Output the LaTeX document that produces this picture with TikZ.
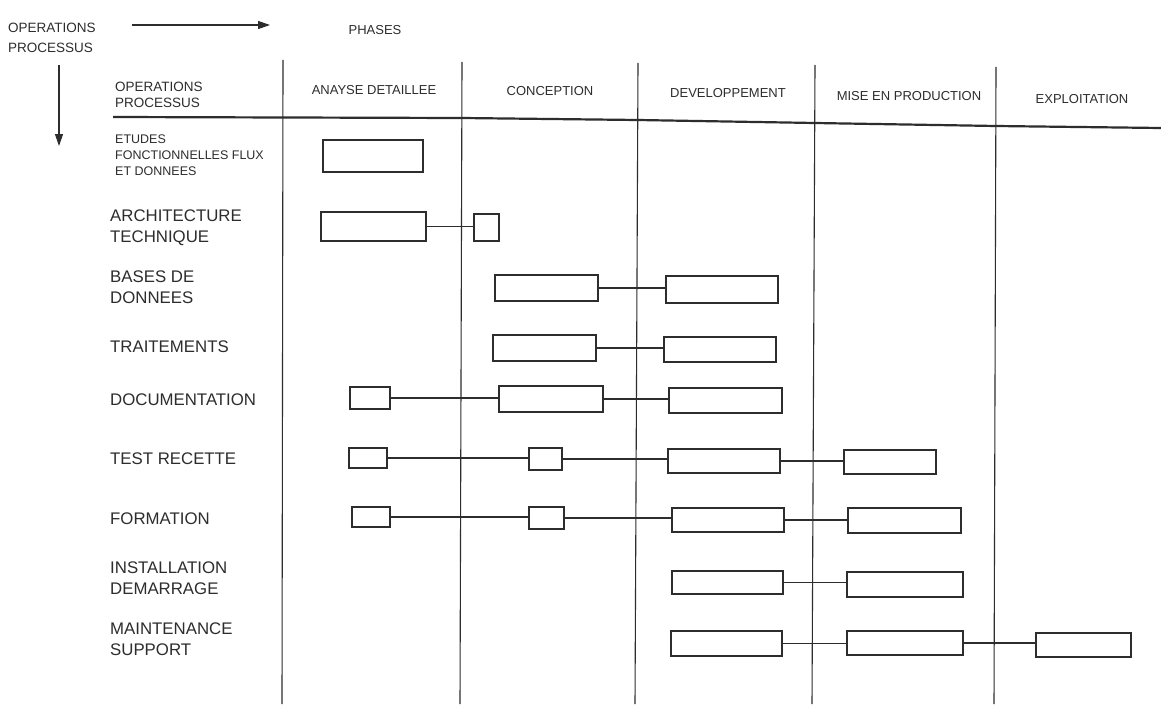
\documentclass[tikz,border=0pt]{standalone}
\usepackage{fontspec}
\setmainfont{Liberation Sans}
\usetikzlibrary{arrows.meta,fit}
\definecolor{inkc}{RGB}{45,45,45}
\begin{document}
\begin{tikzpicture}[x=1pt,y=-1pt,
  rule/.style={draw=inkc, line width=1.1pt},
  headrule/.style={draw=inkc, line width=2.2pt},
  bx/.style={draw=inkc, line width=1.3pt, inner sep=0pt, rectangle, fit={#1}},
  link/.style={draw=inkc, line width=1.2pt},
  arr/.style={draw=inkc, line width=1.1pt, -{Triangle[length=12pt,width=8pt]}},
  lab/.style={anchor=base west, inner sep=0pt, text=inkc, align=left,
    font=\fontsize{16.8}{20.5}\selectfont},
  smalllab/.style={anchor=base west, inner sep=0pt, text=inkc, align=left,
    font=\fontsize{12.5}{16}\selectfont},
  hlab/.style={anchor=base west, inner sep=0pt, text=inkc, align=left,
    font=\fontsize{13.5}{16}\selectfont},
  phase/.style={anchor=base, inner sep=0pt, text=inkc,
    font=\fontsize{13}{15}\selectfont},
]
\useasboundingbox[fill=white] (0,0) rectangle (1161,706);

% top-left legend
\node[hlab, font=\fontsize{13.5}{20}\selectfont] (legend) at (8,52.7) {OPERATIONS\\PROCESSUS};
\node[phase] (phases) at (375,35) {PHASES};
\coordinate (ha) at (132,25);
\coordinate (hb) at (270,25);
\coordinate (va) at (59,65);
\coordinate (vb) at (59,146);
\draw[arr] (ha) -- (hb);
\draw[arr] (va) -- (vb);

% grid
\draw[rule] (283,60) -- (282,704);
\draw[rule] (462,62) -- (460,704);
\draw[rule] (638,63) -- (635,704);
\draw[rule] (815,65) -- (812,704);
\draw[rule] (996,67) -- (994,704);
\draw[headrule] (113,117) -- (462,118) -- (638,120) -- (815,123) -- (996,126) -- (1161,128);

% header row
\node[hlab] (hops) at (115,107.7) {OPERATIONS\\PROCESSUS};
\node[phase] (p1) at (374,95) {ANAYSE DETAILLEE};
\node[phase] (p2) at (550,96) {CONCEPTION};
\node[phase] (p3) at (728,98) {DEVELOPPEMENT};
\node[phase] (p4) at (909,101) {MISE EN PRODUCTION};
\node[phase] (p5) at (1082,103) {EXPLOITATION};

% row labels (base = baseline of the last line)
\node[smalllab] (l1) at (115,175.5) {ETUDES\\FONCTIONNELLES FLUX\\ET DONNEES};
\node[lab] (l2) at (110,242) {ARCHITECTURE\\TECHNIQUE};
\node[lab] (l3) at (110,303) {BASES DE\\DONNEES};
\node[lab] (l4) at (110,352) {TRAITEMENTS};
\node[lab] (l5) at (110,405) {DOCUMENTATION};
\node[lab] (l6) at (110,464) {TEST RECETTE};
\node[lab] (l7) at (110,524) {FORMATION};
\node[lab] (l8) at (110,594) {INSTALLATION\\DEMARRAGE};
\node[lab] (l9) at (110,655) {MAINTENANCE\\SUPPORT};

% row 1
\node[bx={(323,140)(423,172)}] (e1) {};
% row 2
\node[bx={(321,212)(426,241)}] (a1) {};
\node[bx={(474,214)(499,241)}] (a2) {};
\draw[link] (a1.east) -- (a1.east -| a2.west);
% row 3
\node[bx={(495,275)(598,301)}] (b1) {};
\node[bx={(666,276)(778,303)}] (b2) {};
\draw[link] (b1.east) -- (b1.east -| b2.west);
% row 4
\node[bx={(493,335)(596,361)}] (t1) {};
\node[bx={(664,337)(776,362)}] (t2) {};
\draw[link] (t1.east) -- (t1.east -| t2.west);
% row 5
\node[bx={(350,387)(390,409)}] (d1) {};
\node[bx={(499,386)(603,412)}] (d2) {};
\node[bx={(669,388)(782,413)}] (d3) {};
\draw[link] (d1.east) -- (d1.east -| d2.west);
\draw[link] (d2.east) -- (d2.east -| d3.west);
% row 6
\node[bx={(349,448)(387,468)}] (r1) {};
\node[bx={(529,448)(562,470)}] (r2) {};
\node[bx={(668,449)(780,473)}] (r3) {};
\node[bx={(844,450)(936,474)}] (r4) {};
\draw[link] (r1.east) -- (r1.east -| r2.west);
\draw[link] (r2.east) -- (r2.east -| r3.west);
\draw[link] (r3.east) -- (r3.east -| r4.west);
% row 7
\node[bx={(352,507)(390,527)}] (f1) {};
\node[bx={(529,507)(564,529)}] (f2) {};
\node[bx={(672,508)(784,532)}] (f3) {};
\node[bx={(848,508)(961,533)}] (f4) {};
\draw[link] (f1.east) -- (f1.east -| f2.west);
\draw[link] (f2.east) -- (f2.east -| f3.west);
\draw[link] (f3.east) -- (f3.east -| f4.west);
% row 8
\node[bx={(672,571)(783,594)}] (i1) {};
\node[bx={(847,572)(963,597)}] (i2) {};
\draw[link] (i1.east) -- (i1.east -| i2.west);
% row 9
\node[bx={(671,631)(782,656)}] (m1) {};
\node[bx={(847,631)(963,655)}] (m2) {};
\node[bx={(1036,633)(1131,657)}] (m3) {};
\draw[link] (m1.east) -- (m1.east -| m2.west);
\draw[link] (m2.east) -- (m2.east -| m3.west);
\end{tikzpicture}
\end{document}
